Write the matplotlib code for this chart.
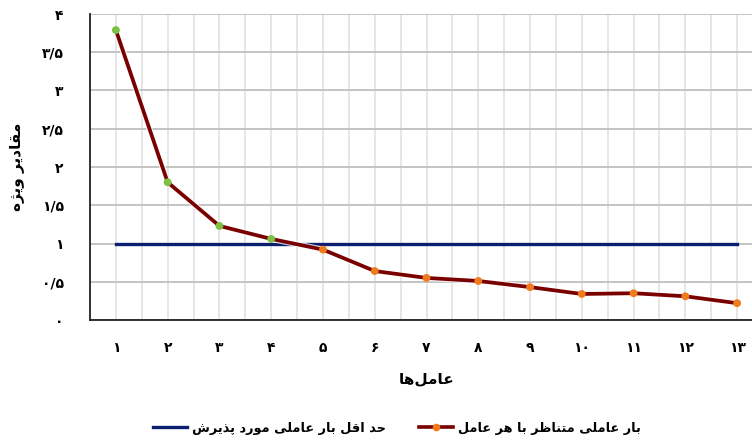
import matplotlib
matplotlib.use('Agg')
import matplotlib.pyplot as plt
import matplotlib.patheffects as pe
from matplotlib.lines import Line2D

# data
factors = list(range(1, 14))
loadings = [3.79, 1.80, 1.23, 1.06, 0.92, 0.64, 0.55, 0.51, 0.43, 0.34, 0.35, 0.31, 0.22]
threshold = 1.0
x_labels = ['۱', '۲', '۳', '۴', '۵', '۶', '۷', '۸', '۹', '۱۰', '۱۱', '۱۲', '۱۳']
y_ticks = [0, 0.5, 1, 1.5, 2, 2.5, 3, 3.5, 4]
y_labels = ['۰', '۰/۵', '۱', '۱/۵', '۲', '۲/۵', '۳', '۳/۵', '۴']
x_title = 'عامل‌ها'
y_title = 'مقادیر ویژه'
series_name = 'بار عاملی متناظر با هر عامل'
threshold_name = 'حد اقل بار عاملی مورد پذیرش'

# minimal arabic shaping (no reshaper library available)
FORMS = {
    'ا': ('\uFE8D', '\uFE8E', None, None),
    'ب': ('\uFE8F', '\uFE90', '\uFE91', '\uFE92'),
    'پ': ('\uFB56', '\uFB57', '\uFB58', '\uFB59'),
    'ت': ('\uFE95', '\uFE96', '\uFE97', '\uFE98'),
    'ح': ('\uFEA1', '\uFEA2', '\uFEA3', '\uFEA4'),
    'د': ('\uFEA9', '\uFEAA', None, None),
    'ذ': ('\uFEAB', '\uFEAC', None, None),
    'ر': ('\uFEAD', '\uFEAE', None, None),
    'ژ': ('\uFB8A', '\uFB8B', None, None),
    'ش': ('\uFEB5', '\uFEB6', '\uFEB7', '\uFEB8'),
    'ظ': ('\uFEC5', '\uFEC6', '\uFEC7', '\uFEC8'),
    'ع': ('\uFEC9', '\uFECA', '\uFECB', '\uFECC'),
    'ق': ('\uFED5', '\uFED6', '\uFED7', '\uFED8'),
    'ل': ('\uFEDD', '\uFEDE', '\uFEDF', '\uFEE0'),
    'م': ('\uFEE1', '\uFEE2', '\uFEE3', '\uFEE4'),
    'ن': ('\uFEE5', '\uFEE6', '\uFEE7', '\uFEE8'),
    'و': ('\uFEED', '\uFEEE', None, None),
    'ه': ('\uFEE9', '\uFEEA', '\uFEEB', '\uFEEC'),
    'ی': ('\uFBFC', '\uFBFD', '\uFBFE', '\uFBFF'),
}


def fa(text):
    out = []
    for i, ch in enumerate(text):
        if ch not in FORMS:
            if ch != '\u200c':
                out.append(ch)
            continue
        prev = text[i - 1] if i > 0 else ''
        nxt = text[i + 1] if i + 1 < len(text) else ''
        join_prev = prev in FORMS and FORMS[prev][2] is not None
        join_next = FORMS[ch][2] is not None and nxt in FORMS
        iso, fin, ini, med = FORMS[ch]
        if join_prev and join_next:
            out.append(med)
        elif join_next:
            out.append(ini)
        elif join_prev:
            out.append(fin)
        else:
            out.append(iso)
    return ''.join(out)[::-1]


plt.rcParams['font.family'] = ['DejaVu Sans']
plt.rcParams['font.weight'] = 'bold'

fig = plt.figure(figsize=(7.52, 4.4), dpi=100)
ax = fig.add_axes([90 / 752, 120 / 440, 673 / 752, 306 / 440])

ax.plot(factors, [threshold] * len(factors), color='#0b1f6e', lw=2.4, zorder=3)
ax.plot(factors, loadings, color='#7a0000', lw=2.7, zorder=4,
        path_effects=[pe.Stroke(linewidth=4.3, foreground='white', alpha=0.8), pe.Normal()])
colors = ['#7cc142' if v > threshold else '#f07b1c' for v in loadings]
ax.scatter(factors, loadings, s=32, c=colors, zorder=5, edgecolors='none')

ax.set_xlim(0.5, 13.5)
ax.set_ylim(0, 4)
ax.set_yticks(y_ticks)
ax.set_yticklabels(y_labels, fontsize=10, fontweight='bold')
ax.set_xticks(factors)
ax.set_xticklabels(x_labels, fontsize=10, fontweight='bold')
ax.set_xticks([f + 0.5 for f in factors[:-1]] + [0.5], minor=True)
ax.tick_params(axis='both', which='both', length=0)
ax.tick_params(axis='y', pad=19)
ax.tick_params(axis='x', pad=15)

ax.grid(axis='y', which='major', color='#c4c4c4', lw=1.4)
ax.grid(axis='x', which='both', color='#e6e6e6', lw=1.4)
ax.set_axisbelow(True)

for side in ['top', 'right']:
    ax.spines[side].set_visible(False)
ax.spines['left'].set_color('#222222')
ax.spines['bottom'].set_color('#222222')
ax.spines['left'].set_linewidth(1.3)
ax.spines['bottom'].set_linewidth(1.3)

ax.set_xlabel(fa(x_title), fontsize=11, fontweight='bold', labelpad=12)
ax.set_ylabel(fa(y_title), fontsize=11, fontweight='bold')
ax.yaxis.set_label_coords(-66 / 673, 0.5)

handles = [
    Line2D([], [], color='#0b1f6e', lw=2.4),
    Line2D([], [], color='#7a0000', lw=2.6, marker='o', markersize=5.5,
           markerfacecolor='#f07b1c', markeredgecolor='none'),
]
fig.legend(handles, [fa(threshold_name), fa(series_name)], ncol=2,
           loc='center', bbox_to_anchor=(397 / 752, 1 - 428 / 440), frameon=False,
           prop={'size': 9.3, 'weight': 'bold'}, handlelength=2.6, columnspacing=2.6,
           handletextpad=0.4)

fig.savefig('out.png', dpi=100)
